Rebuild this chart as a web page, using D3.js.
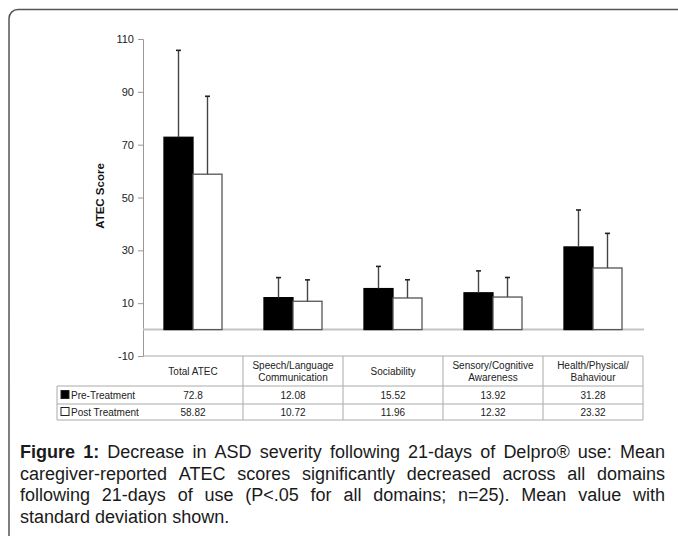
<!DOCTYPE html>
<html>
<head>
<meta charset="utf-8">
<script src="https://cdn.jsdelivr.net/npm/d3@7"></script>
<style>
  body { margin: 0; background: #fff; }
  svg { display: block; font-family: "Liberation Sans", Arial, sans-serif; }
</style>
</head>
<body>
<div id="chart"></div>
<script>
// data
const categories = ["Total ATEC", "Speech/Language\nCommunication", "Sociability", "Sensory/Cognitive\nAwareness", "Health/Physical/\nBahaviour"]
const series = ["Pre-Treatment", "Post Treatment"]
const preMean = [72.8, 12.08, 15.52, 13.92, 31.28]
const postMean = [58.82, 10.72, 11.96, 12.32, 23.32]
const preSD = [32.9, 7.6, 8.4, 8.3, 14.0]
const postSD = [29.5, 8.1, 6.9, 7.4, 13.1]
const yTicks = [-10, 10, 30, 50, 70, 90, 110]
const captionLines = [
  "Decrease in ASD severity following 21-days of Delpro® use: Mean",
  "caregiver-reported ATEC scores significantly decreased across all domains",
  "following 21-days of use (P<.05 for all domains; n=25). Mean value with",
  "standard deviation shown."
]

const W = 678, H = 536
const svg = d3.select("#chart").append("svg")
  .attr("width", W).attr("height", H)

// outer frame with rounded corner
svg.append("rect")
  .attr("x", 9).attr("y", 9.5)
  .attr("width", 720).attr("height", 600)
  .attr("rx", 9)
  .attr("fill", "none")
  .attr("stroke", "#555")
  .attr("stroke-width", 1.5)

const left = 143, right = 643
const yScale = d3.scaleLinear().domain([-10, 110]).range([356, 39])
const xScale = d3.scaleBand().domain(categories).range([left, right])
const x1 = d3.scaleBand().domain(series).range([21, 79])

// y axis
const yAxis = d3.axisLeft(yScale).tickValues(yTicks).tickSize(5).tickPadding(4)
  .tickFormat(d => String(d))
const gy = svg.append("g")
  .attr("transform", "translate(" + left + ",0)")
  .call(yAxis)
gy.select(".domain").attr("stroke", "#999")
gy.selectAll(".tick line").attr("stroke", "#999")
gy.selectAll(".tick text").attr("font-size", "11px").attr("fill", "#222")
  .attr("font-family", "Liberation Sans, Arial, sans-serif")

svg.append("text")
  .attr("transform", "translate(104," + 196 + ") rotate(-90)")
  .attr("text-anchor", "middle")
  .attr("font-size", "11.5px")
  .attr("font-weight", "bold")
  .attr("fill", "#111")
  .text("ATEC Score")

// zero line
svg.append("line")
  .attr("x1", left).attr("x2", right + 1)
  .attr("y1", yScale(0)).attr("y2", yScale(0))
  .attr("stroke", "#c4c4c4").attr("stroke-width", 2)

// bars
const rows = categories.map((c, i) => [
  { cat: c, s: series[0], mean: preMean[i], sd: preSD[i] },
  { cat: c, s: series[1], mean: postMean[i], sd: postSD[i] }
])
const groups = svg.append("g").selectAll("g")
  .data(rows)
  .enter().append("g")
  .attr("transform", d => "translate(" + xScale(d[0].cat) + ",0)")

groups.selectAll("rect")
  .data(d => d)
  .enter().append("rect")
  .attr("x", d => x1(d.s))
  .attr("width", x1.bandwidth())
  .attr("y", d => yScale(d.mean))
  .attr("height", d => yScale(0) - yScale(d.mean))
  .attr("fill", d => d.s == series[0] ? "#000" : "#fff")
  .attr("stroke", d => d.s == series[0] ? "#000" : "#555")
  .attr("stroke-width", 1.3)

// error bars
const err = groups.selectAll("g.err")
  .data(d => d)
  .enter().append("g").attr("class", "err")
err.append("line")
  .attr("x1", d => x1(d.s) + x1.bandwidth() / 2)
  .attr("x2", d => x1(d.s) + x1.bandwidth() / 2)
  .attr("y1", d => yScale(d.mean))
  .attr("y2", d => yScale(d.mean + d.sd))
  .attr("stroke", "#444").attr("stroke-width", 1.4)
err.append("line")
  .attr("x1", d => x1(d.s) + x1.bandwidth() / 2 - 2.5)
  .attr("x2", d => x1(d.s) + x1.bandwidth() / 2 + 2.5)
  .attr("y1", d => yScale(d.mean + d.sd))
  .attr("y2", d => yScale(d.mean + d.sd))
  .attr("stroke", "#222").attr("stroke-width", 1.6)

// data table under the chart
const tTop = yScale(-10), headBot = 386, rowBot = [404, 420], legLeft = 57
const lineC = "#aaa"
const tbl = svg.append("g").attr("stroke", lineC).attr("stroke-width", 1)
tbl.append("line").attr("x1", left).attr("x2", right).attr("y1", tTop).attr("y2", tTop)
tbl.append("line").attr("x1", legLeft).attr("x2", right).attr("y1", headBot).attr("y2", headBot)
rowBot.forEach(y => {
  tbl.append("line").attr("x1", legLeft).attr("x2", right).attr("y1", y).attr("y2", y)
})
tbl.append("line").attr("x1", legLeft).attr("x2", legLeft).attr("y1", headBot).attr("y2", rowBot[1])
categories.forEach(c => {
  tbl.append("line").attr("x1", xScale(c) + xScale.bandwidth()).attr("x2", xScale(c) + xScale.bandwidth())
    .attr("y1", tTop).attr("y2", rowBot[1])
})

const txt = svg.append("g").attr("font-size", "10px").attr("fill", "#222").attr("text-anchor", "middle")
categories.forEach(c => {
  const parts = c.split("\n")
  const cx = xScale(c) + xScale.bandwidth() / 2
  parts.forEach((p, j) => {
    txt.append("text")
      .attr("x", cx)
      .attr("y", (tTop + headBot) / 2 + 3.5 + (j - (parts.length - 1) / 2) * 12)
      .text(p)
  })
})
const tableVals = [preMean, postMean]
tableVals.forEach((vals, r) => {
  const yTop = r == 0 ? headBot : rowBot[0]
  const yMid = (yTop + rowBot[r]) / 2 + 3.5
  vals.forEach((v, i) => {
    txt.append("text")
      .attr("x", xScale(categories[i]) + xScale.bandwidth() / 2)
      .attr("y", yMid)
      .text(v)
  })
  svg.append("rect")
    .attr("x", 61).attr("y", yMid - 8)
    .attr("width", 8).attr("height", 8)
    .attr("fill", r == 0 ? "#000" : "#fff")
    .attr("stroke", "#222").attr("stroke-width", 1)
  svg.append("text")
    .attr("x", 71).attr("y", yMid)
    .attr("font-size", "10px").attr("fill", "#222")
    .text(series[r])
})

// caption, justified like the source
const capLeft = 20, capRight = 665, capY = [458, 480, 501, 523]
const cap = svg.append("g").attr("font-size", "18px").attr("fill", "#1a1a1a")
captionLines.forEach((line, li) => {
  let words = line.split(" ")
  let items = words.map(w => ({ w: w, bold: false }))
  if (li == 0) items = [{ w: "Figure", bold: true }, { w: "1:", bold: true }].concat(items)
  const nodes = items.map(it => cap.append("text")
    .attr("y", capY[li])
    .attr("font-weight", it.bold ? "bold" : "normal")
    .text(it.w))
  const widths = nodes.map(n => n.node().getComputedTextLength())
  const total = d3.sum(widths)
  const last = li == captionLines.length - 1
  const gap = last ? 5 : (capRight - capLeft - total) / (nodes.length - 1)
  let x = capLeft
  nodes.forEach((n, k) => {
    n.attr("x", x)
    x += widths[k] + gap
  })
})
</script>
</body>
</html>
